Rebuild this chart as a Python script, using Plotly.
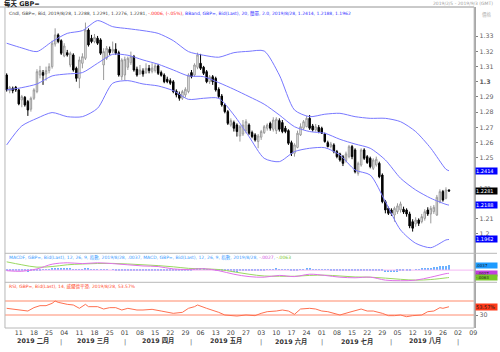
import pandas as pd
import plotly.graph_objects as go

# ---------------- data ----------------
first_day, last_day = "2019-02-05", "2019-08-28"
axis_end = "2019-09-13"

open_ = [
1.3044,1.2941,1.2957,1.2963,1.2946,1.2880,1.2897,1.2869,1.2819,1.2891,
1.2935,1.3044,1.3060,1.3051,1.3073,1.3099,1.3248,1.3308,1.3270,1.3169,
1.3191,1.3110,1.3176,1.3088,1.3022,1.3121,1.3154,1.3340,1.3286,1.3264,
1.3286,1.3275,1.3110,1.3154,1.3213,1.3200,1.3213,1.3191,1.3033,1.3044,
1.3095,1.3125,1.3165,1.3082,1.3055,1.3071,1.3060,1.3088,1.3068,1.3073,
1.3104,1.3060,1.3044,1.3016,1.3007,1.3000,1.2939,1.2919,1.2891,1.2913,
1.2935,1.3060,1.3044,1.3095,1.3121,1.3095,1.3066,1.3000,1.3033,1.3022,
1.2950,1.2906,1.2847,1.2803,1.2715,1.2731,1.2715,1.2643,1.2656,1.2678,
1.2715,1.2665,1.2650,1.2606,1.2635,1.2665,1.2694,1.2726,1.2687,1.2678,
1.2744,1.2731,1.2694,1.2678,1.2599,1.2529,1.2568,1.2650,1.2694,1.2704,
1.2759,1.2709,1.2683,1.2700,1.2694,1.2656,1.2599,1.2573,1.2584,1.2540,
1.2525,1.2507,1.2481,1.2507,1.2573,1.2551,1.2397,1.2452,1.2551,1.2507,
1.2496,1.2430,1.2452,1.2463,1.2386,1.2211,1.2167,1.2156,1.2123,1.2145,
1.2156,1.2161,1.2156,1.2130,1.2079,1.2064,1.2090,1.2079,1.2101,1.2156,
1.2130,1.2145,1.2123,1.2211,1.2277,1.2233,1.2288]
high = [
1.3055,1.2972,1.2968,1.2972,1.2954,1.2913,1.2906,1.2880,1.2902,1.2957,
1.3082,1.3104,1.3077,1.3099,1.3121,1.3270,1.3351,1.3318,1.3279,1.3253,
1.3209,1.3198,1.3187,1.3099,1.3165,1.3187,1.3389,1.3351,1.3308,1.3314,
1.3301,1.3286,1.3220,1.3235,1.3231,1.3264,1.3253,1.3204,1.3154,1.3165,
1.3165,1.3198,1.3176,1.3099,1.3110,1.3088,1.3121,1.3110,1.3121,1.3121,
1.3117,1.3073,1.3055,1.3033,1.3022,1.3011,1.2950,1.2935,1.2946,1.2963,
1.3055,1.3077,1.3121,1.3191,1.3183,1.3104,1.3077,1.3044,1.3044,1.3033,
1.2963,1.2919,1.2858,1.2814,1.2759,1.2744,1.2726,1.2715,1.2748,1.2753,
1.2726,1.2678,1.2661,1.2656,1.2683,1.2715,1.2726,1.2737,1.2766,1.2766,
1.2759,1.2748,1.2709,1.2687,1.2612,1.2595,1.2678,1.2726,1.2748,1.2775,
1.2781,1.2722,1.2722,1.2715,1.2704,1.2665,1.2612,1.2604,1.2595,1.2551,
1.2533,1.2518,1.2540,1.2584,1.2584,1.2562,1.2474,1.2562,1.2562,1.2518,
1.2507,1.2496,1.2507,1.2474,1.2397,1.2222,1.2178,1.2167,1.2178,1.2200,
1.2211,1.2178,1.2167,1.2145,1.2095,1.2108,1.2101,1.2130,1.2161,1.2174,
1.2183,1.2189,1.2255,1.2292,1.2288,1.2305,1.2291]
low = [
1.2935,1.2924,1.2924,1.2933,1.2845,1.2832,1.2836,1.2775,1.2803,1.2880,
1.2924,1.3022,1.2979,1.3007,1.3055,1.3086,1.3231,1.3253,1.3176,1.3161,
1.3165,1.3095,1.3066,1.3000,1.2957,1.3088,1.3143,1.3231,1.3253,1.3253,
1.3242,1.3176,1.3011,1.3143,1.3176,1.3187,1.3176,1.3033,1.3011,1.3007,
1.3077,1.3110,1.3066,1.3033,1.3044,1.3033,1.3051,1.3055,1.3055,1.3060,
1.3044,1.3033,1.2990,1.2990,1.2979,1.2924,1.2897,1.2875,1.2880,1.2897,
1.2924,1.3022,1.3033,1.3082,1.3077,1.3044,1.2990,1.2985,1.2979,1.2935,
1.2891,1.2836,1.2792,1.2715,1.2704,1.2672,1.2639,1.2606,1.2643,1.2661,
1.2650,1.2628,1.2606,1.2562,1.2617,1.2656,1.2678,1.2678,1.2672,1.2656,
1.2672,1.2661,1.2661,1.2584,1.2511,1.2507,1.2562,1.2643,1.2683,1.2700,
1.2683,1.2672,1.2672,1.2661,1.2656,1.2599,1.2568,1.2562,1.2529,1.2496,
1.2474,1.2445,1.2468,1.2496,1.2490,1.2397,1.2382,1.2441,1.2485,1.2459,
1.2430,1.2419,1.2441,1.2365,1.2200,1.2134,1.2123,1.2117,1.2079,1.2130,
1.2139,1.2130,1.2112,1.2036,1.2014,1.2046,1.2051,1.2068,1.2086,1.2117,
1.2068,1.2130,1.2117,1.2200,1.2211,1.2226,1.2276]
close = [
1.2946,1.2963,1.2941,1.2946,1.2854,1.2902,1.2847,1.2814,1.2891,1.2946,
1.3066,1.3073,1.3042,1.3073,1.3099,1.3253,1.3308,1.3264,1.3187,1.3235,
1.3176,1.3187,1.3077,1.3022,1.3143,1.3165,1.3340,1.3242,1.3264,1.3292,
1.3253,1.3187,1.3198,1.3220,1.3191,1.3213,1.3187,1.3044,1.3143,1.3147,
1.3154,1.3165,1.3077,1.3044,1.3077,1.3051,1.3088,1.3073,1.3090,1.3104,
1.3055,1.3042,1.3000,1.3000,1.2990,1.2935,1.2913,1.2891,1.2935,1.2950,
1.3044,1.3033,1.3110,1.3176,1.3088,1.3055,1.3000,1.3033,1.3000,1.2946,
1.2902,1.2847,1.2803,1.2726,1.2744,1.2694,1.2672,1.2704,1.2715,1.2737,
1.2661,1.2639,1.2617,1.2643,1.2672,1.2704,1.2715,1.2694,1.2748,1.2753,
1.2687,1.2672,1.2672,1.2595,1.2529,1.2584,1.2661,1.2704,1.2737,1.2759,
1.2694,1.2683,1.2704,1.2672,1.2661,1.2606,1.2573,1.2590,1.2540,1.2507,
1.2485,1.2463,1.2525,1.2573,1.2507,1.2408,1.2463,1.2551,1.2496,1.2468,
1.2441,1.2485,1.2490,1.2375,1.2211,1.2156,1.2134,1.2134,1.2167,1.2183,
1.2196,1.2143,1.2130,1.2051,1.2036,1.2090,1.2068,1.2112,1.2145,1.2130,
1.2167,1.2174,1.2240,1.2277,1.2222,1.2288,1.2281]

# Bollinger / MACD samples (weekly, every Tuesday + last day)
sample_dates = [
"2019-02-05","2019-02-12","2019-02-19","2019-02-26","2019-03-05","2019-03-12",
"2019-03-19","2019-03-26","2019-04-02","2019-04-09","2019-04-16","2019-04-23",
"2019-04-30","2019-05-07","2019-05-14","2019-05-21","2019-05-28","2019-06-04",
"2019-06-11","2019-06-18","2019-06-25","2019-07-02","2019-07-09","2019-07-16",
"2019-07-23","2019-07-30","2019-08-06","2019-08-13","2019-08-20","2019-08-27",
"2019-08-28"]
bb_upper = [1.3253,1.3222,1.3198,1.3264,1.3318,1.3336,1.3402,1.3362,1.3349,1.3336,
            1.3318,1.3270,1.3198,1.3174,1.3161,1.3191,1.3200,1.3202,1.3044,1.2814,
            1.2770,1.2786,1.2792,1.2770,1.2759,1.2759,1.2737,1.2672,1.2562,1.2424,1.2414]
bb_mid = [1.2946,1.2961,1.2985,1.3038,1.3051,1.3060,1.3121,1.3180,1.3174,1.3143,
          1.3115,1.3077,1.3038,1.3033,1.2994,1.2950,1.2902,1.2852,1.2781,1.2704,
          1.2672,1.2661,1.2621,1.2590,1.2562,1.2485,1.2365,1.2288,1.2233,1.2193,1.2188]
bb_lower = [1.2584,1.2709,1.2759,1.2797,1.2770,1.2770,1.2825,1.2990,1.3007,1.2985,
            1.2972,1.2941,1.2884,1.2891,1.2891,1.2781,1.2639,1.2496,1.2474,1.2540,
            1.2562,1.2566,1.2518,1.2419,1.2386,1.2211,1.2025,1.1937,1.1908,1.1959,1.1962]
macd_line = [-0.0005,-0.0010,0.0010,0.0050,0.0062,0.0055,0.0062,0.0055,0.0045,0.0035,
             0.0030,0.0010,0.0005,0.0012,-0.0005,-0.0035,-0.0055,-0.0060,-0.0045,-0.0055,
             -0.0035,-0.0045,-0.0060,-0.0065,-0.0060,-0.0085,-0.0090,-0.0085,-0.0060,-0.0030,-0.0027]
macd_signal = [0.0070,0.0045,0.0025,0.0030,0.0045,0.0052,0.0056,0.0057,0.0052,0.0045,
               0.0038,0.0028,0.0015,0.0010,0.0005,-0.0015,-0.0035,-0.0050,-0.0052,-0.0052,
               -0.0045,-0.0043,-0.0050,-0.0058,-0.0060,-0.0068,-0.0078,-0.0085,-0.0080,-0.0066,-0.0063]
# MACDF histogram, one value per trading day (units of 0.001)
macd_hist_milli = [
-0.6,-0.8,-1.0,-1.1,-1.3,-1.3,-1.4,-1.5,-1.3,-1.0,
-0.5,-0.2,0.1,0.3,0.5,1.0,1.4,1.5,1.3,1.2,
1.0,0.8,0.5,0.2,0.2,0.3,0.8,0.7,0.6,0.6,
0.5,0.3,0.2,0.1,0.0,-0.1,-0.2,-0.5,-0.6,-0.6,
-0.6,-0.5,-0.6,-0.7,-0.7,-0.7,-0.6,-0.6,-0.5,-0.4,
-0.5,-0.6,-0.7,-0.8,-0.9,-1.0,-1.1,-1.2,-1.1,-0.9,
-0.4,-0.2,0.2,0.7,0.8,0.7,0.4,0.3,0.1,-0.2,
-0.5,-0.8,-1.1,-1.4,-1.4,-1.5,-1.5,-1.3,-1.1,-0.9,
-0.9,-0.9,-0.9,-0.7,-0.5,-0.2,0.1,0.2,0.5,0.7,
0.6,0.5,0.4,0.1,-0.3,-0.4,-0.2,0.2,0.5,0.8,
0.7,0.6,0.5,0.4,0.3,0.1,-0.1,-0.2,-0.4,-0.6,
-0.8,-0.9,-0.8,-0.6,-0.6,-0.9,-0.8,-0.5,-0.4,-0.4,
-0.5,-0.4,-0.3,-0.6,-1.3,-1.8,-2.0,-2.0,-1.8,-1.5,
-1.2,-1.0,-0.8,-0.5,0.0,0.3,0.6,0.9,1.2,1.4,
1.7,2.0,2.5,3.0,3.2,3.5,3.7]

rsi_dates = [
"2019-02-05","2019-02-07","2019-02-11","2019-02-14","2019-02-18","2019-02-20","2019-02-22",
"2019-02-26","2019-02-27","2019-02-28","2019-03-05","2019-03-07","2019-03-11","2019-03-13",
"2019-03-14","2019-03-19","2019-03-21","2019-03-25","2019-03-27","2019-03-29","2019-04-02",
"2019-04-05","2019-04-09","2019-04-12","2019-04-17","2019-04-23","2019-04-26","2019-04-30",
"2019-05-02","2019-05-03","2019-05-08","2019-05-10","2019-05-14","2019-05-16","2019-05-20",
"2019-05-22","2019-05-27","2019-05-30","2019-06-03","2019-06-05","2019-06-10","2019-06-12",
"2019-06-14","2019-06-18","2019-06-20","2019-06-25","2019-06-27","2019-07-01","2019-07-03",
"2019-07-05","2019-07-09","2019-07-12","2019-07-16","2019-07-18","2019-07-22","2019-07-24",
"2019-07-29","2019-07-31","2019-08-02","2019-08-06","2019-08-08","2019-08-12","2019-08-15",
"2019-08-19","2019-08-21","2019-08-23","2019-08-26","2019-08-28"]
rsi = [
49.1,47.1,44.3,41.4,51.0,56.7,56.7,
63.3,70.0,66.2,60.5,58.6,49.1,60.5,
53.8,53.8,47.1,51.0,51.0,44.3,49.1,
44.3,44.3,46.2,41.4,34.8,37.6,49.1,
53.8,58.6,49.1,44.3,37.6,30.0,28.1,
27.1,30.0,28.1,34.8,39.5,41.4,44.3,
41.4,31.9,47.1,49.1,47.1,41.4,39.5,
34.8,30.0,37.6,41.4,47.1,41.4,41.4,
34.8,28.1,28.1,30.0,25.2,28.1,30.0,
39.5,41.4,51.0,49.1,53.57]

rsi_levels = [70, 30]
month_names = ["二月", "三月", "四月", "五月", "六月", "七月", "八月"]
price_ticks = [1.20, 1.21, 1.23, 1.25, 1.26, 1.27, 1.28, 1.29, 1.30, 1.31, 1.32, 1.33]

# ---------------- geometry helpers ----------------
W, H = 500, 352
def py(y):
    return 1 - y / H

trade_days = pd.bdate_range(first_day, axis_end)
pos = {d.strftime("%Y-%m-%d"): i for i, d in enumerate(trade_days)}
n = len(close)
xs = list(range(n))
sx = [pos[d] for d in sample_dates]
rx = [pos[d] for d in rsi_dates]
hist = [v / 1000 for v in macd_hist_milli]

x_lo, x_hi = -0.56, 154.3
main_dom = [py(253.3), py(7)]
macd_dom = [py(282.3), py(253.3)]
rsi_dom = [py(328), py(282.3)]

fig = go.Figure()
fig.add_trace(go.Candlestick(
    x=xs, open=open_, high=high, low=low, close=close,
    increasing=dict(line=dict(color="#9a9a9a", width=1), fillcolor="#ffffff"),
    decreasing=dict(line=dict(color="#000000", width=1), fillcolor="#000000"),
    whiskerwidth=0, xaxis="x", yaxis="y", showlegend=False, hoverinfo="skip"))
for band in (bb_upper, bb_mid, bb_lower):
    fig.add_trace(go.Scatter(x=sx, y=band, mode="lines", yaxis="y",
                             line=dict(color="#7878ff", width=1, shape="spline", smoothing=0.7),
                             showlegend=False, hoverinfo="skip"))

fig.add_trace(go.Scatter(x=[x_lo, x_hi], y=[0, 0], mode="lines", yaxis="y2",
                         line=dict(color="#f4b8f4", width=1), showlegend=False, hoverinfo="skip"))
fig.add_trace(go.Bar(x=xs, y=hist, yaxis="y2", marker=dict(color="#6cb2ff", line=dict(width=0)),
                     width=0.4, showlegend=False, hoverinfo="skip"))
fig.add_trace(go.Scatter(x=sx, y=macd_signal, mode="lines", yaxis="y2",
                         line=dict(color="#9ad860", width=1, shape="spline"), showlegend=False, hoverinfo="skip"))
fig.add_trace(go.Scatter(x=sx, y=macd_line, mode="lines", yaxis="y2",
                         line=dict(color="#e070e8", width=1, shape="spline"), showlegend=False, hoverinfo="skip"))

fig.add_trace(go.Scatter(x=[x_lo, x_hi], y=[rsi_levels[0]] * 2, mode="lines", yaxis="y3",
                         line=dict(color="#ffc4b4", width=2), showlegend=False, hoverinfo="skip"))
fig.add_trace(go.Scatter(x=[x_lo, x_hi], y=[rsi_levels[1]] * 2, mode="lines", yaxis="y3",
                         line=dict(color="#ff8c70", width=1), showlegend=False, hoverinfo="skip"))
fig.add_trace(go.Scatter(x=rx, y=rsi, mode="lines", yaxis="y3",
                         line=dict(color="#ff7050", width=1), showlegend=False, hoverinfo="skip"))

# x ticks: Mondays
mondays = [d for d in trade_days if d.weekday() == 0]
tickvals = [pos[d.strftime("%Y-%m-%d")] for d in mondays]
ticktext = [d.strftime("%d") for d in mondays]

def price_label(v):
    if abs(v - 1.30) < 1e-9:
        return "<b>1.3</b>"
    if abs(v - 1.23) < 1e-9:   # mostly hidden behind the last-price box
        return "<span style='font-size:5px'>1.23</span>"
    return f"{v:.2f}".rstrip("0")

FONT = "DejaVu Sans, Noto Sans CJK TC"
fig.update_layout(
    width=W, height=H, margin=dict(l=0, r=0, t=0, b=0),
    paper_bgcolor="white", plot_bgcolor="white",
    font=dict(family=FONT, size=7, color="#505050"),
    xaxis=dict(domain=[5 / W, 477 / W], range=[x_lo, x_hi], anchor="y3",
               tickvals=tickvals, ticktext=ticktext, ticks="", showgrid=False,
               zeroline=False, showline=False, tickfont=dict(size=6.3, color="#404040"),
               ticklabelstandoff=0, rangeslider=dict(visible=False)),
    yaxis=dict(domain=main_dom, range=[1.18711, 1.34914], side="right", anchor="x",
               tickvals=price_ticks, ticktext=[price_label(v) for v in price_ticks],
               ticks="outside", ticklen=2, tickcolor="#808080", showgrid=False, zeroline=False,
               showline=True, linecolor="#a8a8a8", linewidth=2,
               tickfont=dict(size=6.3, color="#606060")),
    yaxis2=dict(domain=macd_dom, range=[-0.01034, 0.01424], side="right", anchor="x",
                showticklabels=False, ticks="", showgrid=False, zeroline=False,
                showline=True, linecolor="#a8a8a8", linewidth=2),
    yaxis3=dict(domain=rsi_dom, range=[-7.1, 123.4], side="right", anchor="x",
                tickvals=[30], ticktext=["30"], ticks="outside", ticklen=2, tickcolor="#808080",
                showgrid=False, zeroline=False, showline=True, linecolor="#a8a8a8", linewidth=2,
                tickfont=dict(size=6.3, color="#606060")),
    bargap=0,
)

shapes = [
    dict(type="rect", xref="paper", yref="paper", x0=5 / W, x1=477 / W, y0=py(328), y1=py(7),
         line=dict(color="#b8b8b8", width=1)),
    dict(type="line", xref="paper", yref="paper", x0=5 / W, x1=1, y0=py(253.3), y1=py(253.3),
         line=dict(color="#b8b8b8", width=1)),
    dict(type="line", xref="paper", yref="paper", x0=5 / W, x1=1, y0=py(282.3), y1=py(282.3),
         line=dict(color="#b8b8b8", width=1)),
    dict(type="line", xref="paper", yref="paper", x0=0, x1=477 / W, y0=py(7), y1=py(7),
         line=dict(color="#b8b8b8", width=1)),
]
fig.update_layout(shapes=shapes)

ann = []
ann.append(dict(x=2 / W, y=py(3), xref="paper", yref="paper", xanchor="left", yanchor="middle",
                text="<b>每天 GBP=</b>", showarrow=False, font=dict(size=6.5, color="#202020")))
ann.append(dict(x=498 / W, y=py(4), xref="paper", yref="paper", xanchor="right", yanchor="middle",
                text="2019/2/5 - 2019/9/3 (GMT)", showarrow=False, font=dict(size=4.5, color="#a0a0a0")))
ann.append(dict(x=483 / W, y=py(15), xref="paper", yref="paper", xanchor="left", yanchor="middle",
                text="價格", showarrow=False, font=dict(size=4.5, color="#b0b0b0")))
ann.append(dict(x=7 / W, y=py(13.3), xref="paper", yref="paper", xanchor="left", yanchor="middle",
                text=("Cndl, GBP=, Bid, 2019/8/28, 1.2288, 1.2291, 1.2276, 1.2281, "
                      "<span style='color:#ff2020'>-.0006, (-.05%)</span>, "
                      "<span style='color:#3030ff'>BBand, GBP=, Bid(Last), 20, 簡單, 2.0, 2019/8/28, 1.2414, 1.2188, 1.1962</span>"),
                showarrow=False, font=dict(size=4.5, color="#404040")))
ann.append(dict(x=7 / W, y=py(257), xref="paper", yref="paper", xanchor="left", yanchor="middle",
                text=("<span style='color:#3a9cff'>MACDF, GBP=, Bid(Last), 12, 26, 9, 指數, 2019/8/28, .0037, "
                      "MACD, GBP=, Bid(Last), 12, 26, 9, 指數, 2019/8/28, </span>"
                      "<span style='color:#d050e0'>-.0027</span>, <span style='color:#80c830'>-.0063</span>"),
                showarrow=False, font=dict(size=4.5, color="#3a9cff")))
ann.append(dict(x=7 / W, y=py(286), xref="paper", yref="paper", xanchor="left", yanchor="middle",
                text="RSI, GBP=, Bid(Last), 14, 威爾德平滑, 2019/8/28, 53.57%",
                showarrow=False, font=dict(size=4.5, color="#ff4a2a")))

# value boxes on right axis
def box(yv, yref, txt, bg, fg="#ffffff", size=5):
    ann.append(dict(x=477.5 / W, y=yv, xref="paper", yref=yref, xanchor="left", yanchor="middle",
                    text=txt, showarrow=False, bgcolor=bg, borderpad=0,
                    font=dict(size=size, color=fg), width=21, align="left"))
box(bb_upper[-1], "y", "1.2414", "#0000ff")
box(close[-1], "y", "1.2281", "#000000")
box(bb_mid[-1], "y", "1.2188", "#0000ff")
box(bb_lower[-1], "y", "1.1962", "#0000ff")
box(hist[-1], "y2", ".0037", "#1e9bff", "#202020", 4)
box(macd_line[-1], "y2", "-.0027", "#c040e0", "#202020", 4)
box(macd_signal[-1], "y2", "-.0063", "#78c828", "#202020", 4)
box(rsi[-1], "y3", "53.57%", "#ff3a1a", "#202020", 5)

# month labels and separators
month_starts = [d for i, d in enumerate(trade_days) if i > 0 and d.month != trade_days[i - 1].month]
sep_pos = [pos[d.strftime("%Y-%m-%d")] for d in month_starts]
bounds = [x_lo] + sep_pos
for k, name in enumerate(month_names):
    xc = (bounds[k] + bounds[k + 1]) / 2
    ann.append(dict(x=xc, y=py(341), xref="x", yref="paper", xanchor="center", yanchor="middle",
                    text=f"<b>2019 {name}</b>", showarrow=False, font=dict(size=6.3, color="#303030")))
for sp in sep_pos:
    ann.append(dict(x=sp, y=py(341.5), xref="x", yref="paper", xanchor="center", yanchor="middle",
                    text="|", showarrow=False, font=dict(size=6.5, color="#606060")))
fig.update_layout(annotations=ann)

fig.write_html("out.html")
